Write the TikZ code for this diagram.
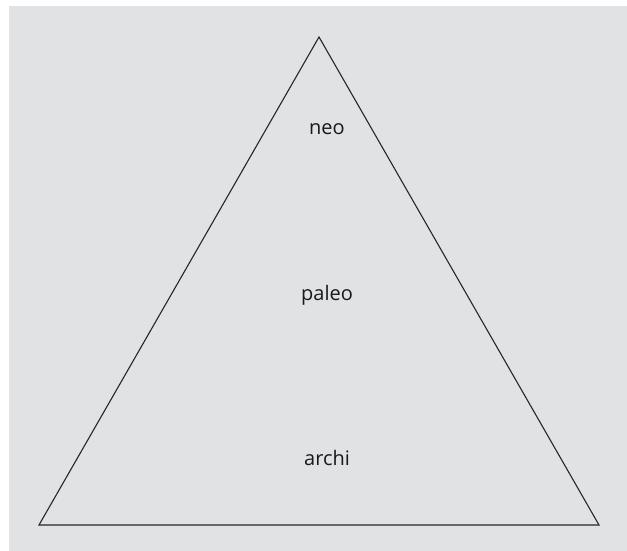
\documentclass[tikz,border=0pt]{standalone}
\usepackage{fontspec}
\setmainfont{Open Sans}
\usepackage{tikz}
\usetikzlibrary{positioning}
\definecolor{bggray}{RGB}{225,226,228}

\begin{document}
\begin{tikzpicture}[
			x=1pt, y=-1pt,
			level/.style={font=\fontsize{20}{24}\selectfont, text=black!90},
			edge/.style={draw=black!85, line width=1.1pt, line join=miter}
			]
			% Sfondo
			\useasboundingbox (0,0) rectangle (627,551);
			\fill[bggray] (9,6) rectangle (627,551);
			
			% Vertici del triangolo
			\coordinate (top) at (319,37);
			\coordinate (bl) at (39,525);
			\coordinate (br) at (599,525);
			\draw[edge] (top) -- (br) -- (bl) -- cycle;
			
			% Livelli
			\node[level] (neo) at (327,129) {neo};
			\node[level] (paleo) at (327,295) {paleo};
			\node[level] (archi) at (327,458) {archi};
			
		\end{tikzpicture}
\end{document}
